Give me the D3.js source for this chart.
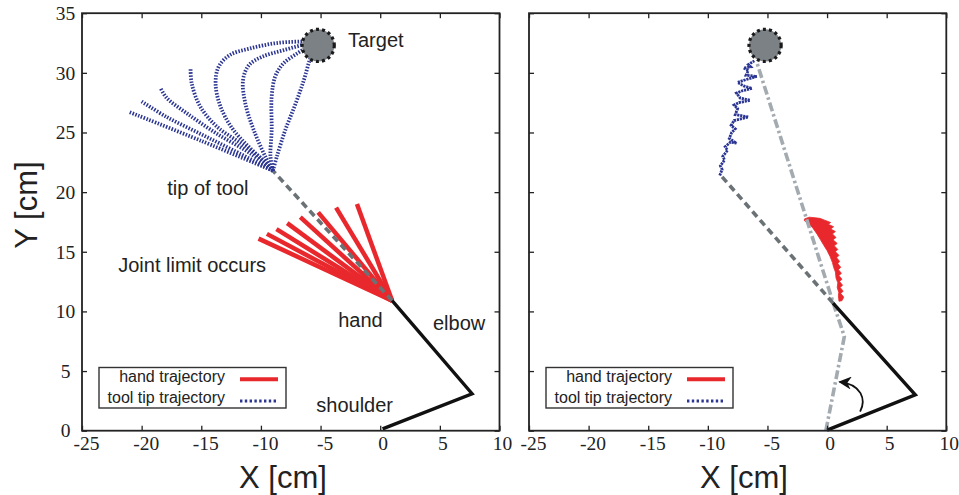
<!DOCTYPE html>
<html><head><meta charset="utf-8">
<script src="https://cdn.jsdelivr.net/npm/d3@7"></script>
<style>body{margin:0;background:#fff}svg{display:block}</style>
</head><body><svg id="c" width="959" height="495"></svg>
<script>
// ---------- data ----------
const xTicks = [-25, -20, -15, -10, -5, 0, 5, 10];
const yTicks = [0, 5, 10, 15, 20, 25, 30, 35];
const xDomain = [-25, 10];
const yDomain = [0, 35];
const legendItems = ["hand trajectory", "tool tip trajectory"];

const target = [-5.2, 32.3];
const targetR = 1.35;

// left panel
const armLeft = [[0.2, 0.15], [7.7, 3.1], [1.0, 10.9]];
const toolLeft = [[1.0, 10.9], [-9.0, 21.8]];
const handStart = [1.0, 10.9];
const handEnds = [[-10.2, 16.1], [-9.5, 16.5], [-8.7, 16.9], [-7.8, 17.4], [-6.7, 17.9], [-5.2, 18.3], [-3.7, 18.7], [-1.95, 19.0]];
const tipPaths = [
  [[-9.0, 21.8], [-15.0, 24.3], [-21.0, 26.7]],
  [[-9.0, 21.8], [-12.3, 23.5], [-15.1, 24.9], [-17.9, 26.3], [-20.0, 27.6]],
  [[-9.0, 21.8], [-10.9, 23.25], [-13.7, 24.9], [-16.2, 26.6], [-17.9, 27.9], [-18.4, 28.7]],
  [[-9.0, 21.8], [-9.8, 22.7], [-11.7, 24.1], [-13.7, 25.5], [-15.1, 27.2], [-15.8, 29.1], [-15.9, 30.4]],
  [[-9.0, 21.8], [-10.2, 23.0], [-12.3, 25.2], [-13.4, 27.2], [-13.8, 29.1], [-13.55, 30.5], [-12.6, 31.5], [-10.9, 32.05], [-8.66, 32.5], [-6.1, 32.65], [-5.3, 32.7]],
  [[-9.0, 21.8], [-9.64, 23.0], [-10.6, 25.2], [-11.3, 27.4], [-11.5, 29.4], [-11.0, 30.65], [-9.9, 31.35], [-8.1, 31.9], [-5.9, 32.5], [-5.4, 32.6]],
  [[-9.0, 21.8], [-9.2, 23.0], [-9.1, 25.2], [-9.1, 28.0], [-8.8, 29.7], [-8.1, 30.8], [-7.0, 31.6], [-5.9, 32.3], [-5.4, 32.6]],
  [[-9.0, 21.8], [-8.66, 23.0], [-7.96, 25.2], [-7.1, 27.4], [-6.4, 29.4], [-5.9, 31.1], [-5.45, 32.2], [-5.3, 32.6]]
];
const labelsLeft = [
  {text: "Target", x: -2.7, y: 32.2},
  {text: "tip of tool", x: -17.85, y: 19.76},
  {text: "Joint limit occurs", x: -21.96, y: 13.33},
  {text: "hand", x: -3.52, y: 8.67},
  {text: "elbow", x: 4.42, y: 8.44},
  {text: "shoulder", x: -5.36, y: 1.59}
];

// right panel
const armRight = [[0.0, 0.05], [7.4, 3.0], [0.5, 10.7]];
const toolRight = [[0.5, 10.7], [-9.0, 21.5]];
const finalPose = [[-0.1, 0.0], [1.45, 7.9], [0.55, 10.6], [-5.9, 30.9]];
const handJitter = [
  [-1.9, 17.75], [-1.5, 17.9], [-1.0, 17.85], [-0.6, 17.8], [-0.2, 17.65], [0.3, 17.45], [0.1, 17.3], [0.55, 17.1],
  [0.3, 16.9], [0.7, 16.7], [0.45, 16.5], [0.75, 16.2], [0.5, 16.0], [0.85, 15.7], [0.6, 15.5], [0.9, 15.2],
  [0.7, 15.0], [1.0, 14.7], [0.8, 14.5], [1.05, 14.2], [0.9, 14.0], [1.15, 13.7], [0.95, 13.5], [1.2, 13.2],
  [1.0, 13.0], [1.25, 12.7], [1.05, 12.5], [1.3, 12.2], [1.1, 12.0], [1.35, 11.7], [1.15, 11.5], [1.4, 11.2],
  [1.25, 10.9], [1.0, 10.85], [0.95, 11.3], [0.98, 11.6], [0.85, 12.0], [0.9, 12.4], [0.75, 12.8], [0.7, 13.3],
  [0.55, 13.7], [0.45, 14.1], [0.25, 14.6], [0.0, 15.1], [-0.25, 15.5], [-0.55, 16.0], [-0.85, 16.5], [-1.2, 17.0],
  [-1.6, 17.4], [-1.9, 17.6]
];
const tipJitter = [
  [-9.0, 21.4], [-8.8, 21.9], [-8.95, 22.2], [-8.6, 22.7], [-8.75, 23.0], [-8.35, 23.5], [-8.55, 23.8], [-8.1, 24.2],
  [-7.6, 24.1], [-8.2, 24.5], [-8.0, 25.0], [-7.7, 25.3], [-8.05, 25.6], [-7.8, 26.0], [-6.6, 26.3], [-7.7, 26.5],
  [-7.5, 27.0], [-7.8, 27.3], [-7.4, 27.5], [-6.45, 27.7], [-7.3, 27.9], [-7.6, 28.3], [-7.1, 28.5], [-6.3, 28.7],
  [-7.0, 28.9], [-7.5, 29.2], [-6.9, 29.4], [-5.9, 29.7], [-6.8, 29.8], [-6.6, 30.2], [-7.0, 30.4], [-6.4, 30.5],
  [-6.6, 30.7], [-6.1, 31.0]
];
const arrowPts = [[2.77, 1.6], [3.3, 2.6], [2.9, 3.9], [1.05, 4.1]];

// ---------- drawing ----------
const svg = d3.select("#c");
const yScale = d3.scaleLinear().domain(yDomain).range([430.7, 13.2]);
const xLeft = d3.scaleLinear().domain(xDomain).range([82, 499.5]);
const xRight = d3.scaleLinear().domain(xDomain).range([529, 946.3]);

const RED = "#e8282c", BLUE = "#2b3592", DGRAY = "#6a7275", LGRAY = "#a3abb1", TGRAY = "#7c8186";
const SERIF = "'Liberation Serif','DejaVu Serif',serif";
const SANS = "'Liberation Sans',Arial,sans-serif";
const TICKFS = 19.5;

const defs = svg.append("defs");
defs.append("marker").attr("id", "ah").attr("viewBox", "0 0 10 10").attr("refX", 9).attr("refY", 5)
  .attr("markerWidth", 13).attr("markerHeight", 13).attr("markerUnits", "userSpaceOnUse").attr("orient", "auto")
  .append("path").attr("d", "M0,0 L10,5 L0,10 L3,5 Z").attr("fill", "#111");

function frame(g, x, showY) {
  const ax = g.append("g").attr("transform", `translate(0,${yScale(0)})`)
    .call(d3.axisBottom(x).tickValues(xTicks).tickSize(-5).tickSizeOuter(0).tickPadding(6).tickFormat(d => String(d)));
  ax.attr("font-family", SERIF).attr("font-size", TICKFS);
  ax.select(".domain").remove();
  ax.selectAll("text").attr("fill", "#222").attr("dy", null).attr("y", 19).attr("dx", d => d < 0 ? 4 : 2.5);
  ax.selectAll("line").attr("stroke", "#222").attr("stroke-width", 1.3);

  const at = g.append("g").attr("transform", `translate(0,${yScale(35)})`)
    .call(d3.axisTop(x).tickValues(xTicks).tickSize(-5).tickSizeOuter(0).tickFormat(""));
  at.select(".domain").remove();
  at.selectAll("line").attr("stroke", "#222").attr("stroke-width", 1.3);

  const al = g.append("g").attr("transform", `translate(${x(-25)},0)`)
    .call(d3.axisLeft(yScale).tickValues(yTicks).tickSize(-5).tickSizeOuter(0).tickPadding(5).tickFormat(showY ? (d => String(d)) : ""));
  al.attr("font-family", SERIF).attr("font-size", TICKFS);
  al.select(".domain").remove();
  al.selectAll("text").attr("fill", "#222").attr("text-anchor", "middle").attr("x", -16.5);
  al.selectAll("line").attr("stroke", "#222").attr("stroke-width", 1.3);

  const ar = g.append("g").attr("transform", `translate(${x(10)},0)`)
    .call(d3.axisRight(yScale).tickValues(yTicks).tickSize(-5).tickSizeOuter(0).tickFormat(""));
  ar.select(".domain").remove();
  ar.selectAll("line").attr("stroke", "#222").attr("stroke-width", 1.3);

  g.append("rect").attr("x", x(-25)).attr("y", yScale(35)).attr("width", x(10) - x(-25)).attr("height", yScale(0) - yScale(35))
    .attr("fill", "none").attr("stroke", "#222").attr("stroke-width", 1.8);
}

function targetCircle(g, x) {
  g.append("circle").attr("cx", x(target[0])).attr("cy", yScale(target[1]))
    .attr("r", x(target[0] + targetR) - x(target[0]))
    .attr("fill", TGRAY).attr("stroke", "#1a1a1a").attr("stroke-width", 3.2).attr("stroke-dasharray", "3,3.1");
}

function legend(g, x) {
  const lx = x(-25) + 17, ly = 367.5;
  g.append("rect").attr("x", lx).attr("y", ly).attr("width", 187).attr("height", 40.5)
    .attr("fill", "#fff").attr("stroke", "#333").attr("stroke-width", 1.4);
  g.selectAll(".lt").data(legendItems).enter().append("text")
    .attr("x", lx + 126).attr("y", (d, i) => ly + 14.5 + i * 20.5)
    .attr("text-anchor", "end").attr("font-family", SANS).attr("font-size", 16).attr("fill", "#222").text(d => d);
  g.append("line").attr("x1", lx + 141).attr("x2", lx + 179).attr("y1", ly + 11.8).attr("y2", ly + 11.8)
    .attr("stroke", RED).attr("stroke-width", 4);
  g.append("line").attr("x1", lx + 141).attr("x2", lx + 179).attr("y1", ly + 33.5).attr("y2", ly + 33.5)
    .attr("stroke", BLUE).attr("stroke-width", 3).attr("stroke-dasharray", "2.4,2.4");
}

function xTitle(g, cx) {
  g.append("text").attr("x", cx).attr("y", 488).attr("text-anchor", "middle")
    .attr("font-family", SANS).attr("font-size", 31).attr("fill", "#222").text("X [cm]");
}

// ----- left panel -----
{
  const g = svg.append("g");
  const x = xLeft;
  const line = d3.line().x(d => x(d[0])).y(d => yScale(d[1]));
  const curve = d3.line().x(d => x(d[0])).y(d => yScale(d[1])).curve(d3.curveCatmullRom.alpha(0.5));

  g.selectAll(".red").data(handEnds).enter().append("line")
    .attr("x1", x(handStart[0])).attr("y1", yScale(handStart[1]))
    .attr("x2", d => x(d[0])).attr("y2", d => yScale(d[1]))
    .attr("stroke", RED).attr("stroke-width", 4.5);

  g.append("path").attr("d", line(toolLeft)).attr("fill", "none").attr("stroke", DGRAY)
    .attr("stroke-width", 3.6).attr("stroke-dasharray", "7,4.5");

  g.selectAll(".blue").data(tipPaths).enter().append("path").attr("d", d => curve(d))
    .attr("fill", "none").attr("stroke", BLUE).attr("stroke-width", 3.8).attr("stroke-dasharray", "1.5,1.5");

  targetCircle(g, x);

  g.append("path").attr("d", line(armLeft)).attr("fill", "none").attr("stroke", "#111")
    .attr("stroke-width", 3.4).attr("stroke-linejoin", "miter");

  g.selectAll(".lab").data(labelsLeft).enter().append("text")
    .attr("x", d => x(d.x)).attr("y", d => yScale(d.y))
    .attr("font-family", SANS).attr("font-size", 20).attr("fill", "#222").text(d => d.text);

  legend(g, x);
  frame(g, x, true);
  xTitle(g, 283);
  g.append("text").attr("transform", `translate(37,${205}) rotate(-90)`).attr("text-anchor", "middle")
    .attr("font-family", SANS).attr("font-size", 31).attr("fill", "#222").text("Y [cm]");
}

// ----- right panel -----
{
  const g = svg.append("g");
  const x = xRight;
  const line = d3.line().x(d => x(d[0])).y(d => yScale(d[1]));

  g.append("path").attr("d", line(handJitter) + "Z").attr("fill", RED).attr("stroke", RED).attr("stroke-width", 0.8);
  g.append("path").attr("d", line(tipJitter)).attr("fill", "none").attr("stroke", BLUE)
    .attr("stroke-width", 2.8).attr("stroke-dasharray", "2.2,0.8").attr("stroke-linejoin", "miter");

  g.append("path").attr("d", line(finalPose)).attr("fill", "none").attr("stroke", LGRAY)
    .attr("stroke-width", 3.6).attr("stroke-dasharray", "9,3,2.5,3");
  g.append("path").attr("d", line(toolRight)).attr("fill", "none").attr("stroke", DGRAY)
    .attr("stroke-width", 3.6).attr("stroke-dasharray", "7,4.5");

  targetCircle(g, x);

  g.append("path").attr("d", line(armRight)).attr("fill", "none").attr("stroke", "#111")
    .attr("stroke-width", 3.4).attr("stroke-linejoin", "miter");

  const p = d3.path();
  const a = arrowPts.map(d => [x(d[0]), yScale(d[1])]);
  p.moveTo(a[0][0], a[0][1]);
  p.bezierCurveTo(a[1][0], a[1][1], a[2][0], a[2][1], a[3][0], a[3][1]);
  g.append("path").attr("d", p.toString()).attr("fill", "none").attr("stroke", "#111")
    .attr("stroke-width", 1.8).attr("marker-end", "url(#ah)");

  legend(g, x);
  frame(g, x, false);
  xTitle(g, 744);
}
</script></body></html>
